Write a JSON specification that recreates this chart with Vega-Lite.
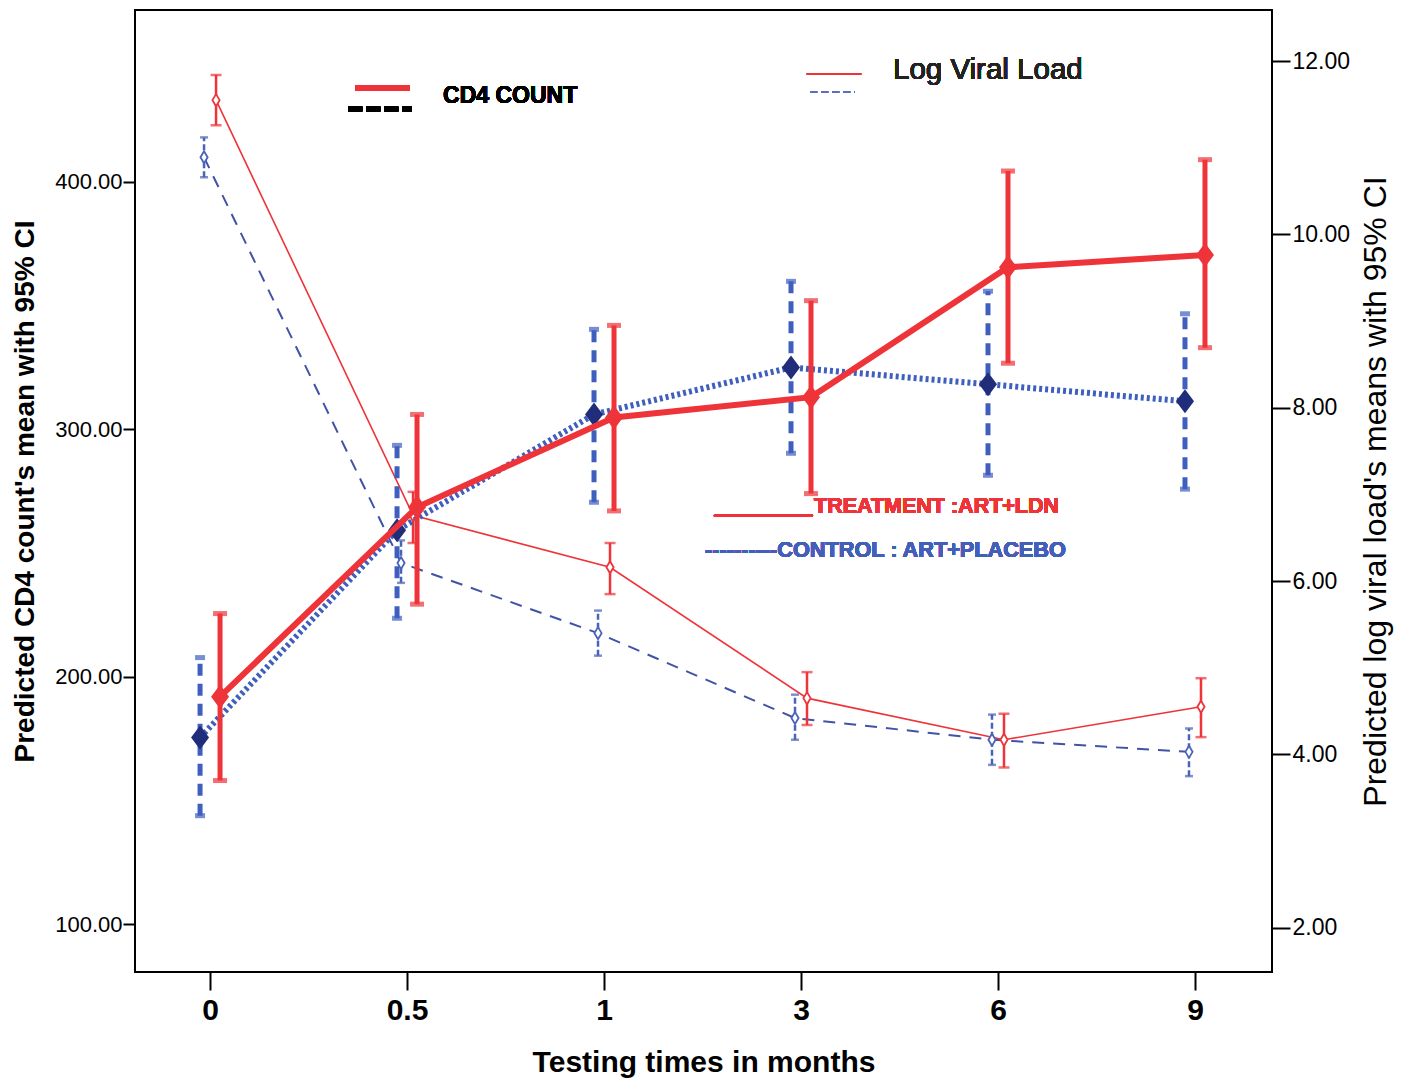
{
  "$schema": "https://vega.github.io/schema/vega-lite/v6.json",
  "width": 1137,
  "height": 962,
  "autosize": {"type": "none"},
  "padding": {"left": 135, "top": 10, "right": 134, "bottom": 106},
  "config": {
    "font": "Liberation Sans",
    "view": {"stroke": "#000000", "strokeWidth": 2},
    "axis": {"grid": false, "domain": false, "tickColor": "#000000", "labelColor": "#000000", "titleColor": "#000000", "labelFont": "Liberation Sans", "titleFont": "Liberation Sans"}
  },
  "data": {
    "values": [
      {"t": "0", "idx": 0, "grp": "T", "m": "CD4", "mean": 191.9, "lo": 158.0, "hi": 225.5},
      {"t": "0.5", "idx": 1, "grp": "T", "m": "CD4", "mean": 268.5, "lo": 229.3, "hi": 306.0},
      {"t": "1", "idx": 2, "grp": "T", "m": "CD4", "mean": 304.8, "lo": 267.0, "hi": 342.0},
      {"t": "3", "idx": 3, "grp": "T", "m": "CD4", "mean": 313.0, "lo": 274.0, "hi": 352.0},
      {"t": "6", "idx": 4, "grp": "T", "m": "CD4", "mean": 365.5, "lo": 326.7, "hi": 404.4},
      {"t": "9", "idx": 5, "grp": "T", "m": "CD4", "mean": 370.5, "lo": 333.0, "hi": 409.0},
      {"t": "0", "idx": 0, "grp": "C", "m": "CD4", "mean": 175.4, "lo": 143.8, "hi": 207.7},
      {"t": "0.5", "idx": 1, "grp": "C", "m": "CD4", "mean": 259.2, "lo": 223.6, "hi": 293.5},
      {"t": "1", "idx": 2, "grp": "C", "m": "CD4", "mean": 306.0, "lo": 270.5, "hi": 340.4},
      {"t": "3", "idx": 3, "grp": "C", "m": "CD4", "mean": 325.0, "lo": 290.3, "hi": 359.8},
      {"t": "6", "idx": 4, "grp": "C", "m": "CD4", "mean": 318.2, "lo": 281.4, "hi": 355.8},
      {"t": "9", "idx": 5, "grp": "C", "m": "CD4", "mean": 311.3, "lo": 275.8, "hi": 346.7},
      {"t": "0", "idx": 0, "grp": "T", "m": "VL", "mean": 11.55, "lo": 11.26, "hi": 11.84},
      {"t": "0.5", "idx": 1, "grp": "T", "m": "VL", "mean": 6.76, "lo": 6.44, "hi": 7.03},
      {"t": "1", "idx": 2, "grp": "T", "m": "VL", "mean": 6.16, "lo": 5.85, "hi": 6.44},
      {"t": "3", "idx": 3, "grp": "T", "m": "VL", "mean": 4.65, "lo": 4.34, "hi": 4.95},
      {"t": "6", "idx": 4, "grp": "T", "m": "VL", "mean": 4.17, "lo": 3.85, "hi": 4.47},
      {"t": "9", "idx": 5, "grp": "T", "m": "VL", "mean": 4.55, "lo": 4.2, "hi": 4.88},
      {"t": "0", "idx": 0, "grp": "C", "m": "VL", "mean": 10.89, "lo": 10.66, "hi": 11.12},
      {"t": "0.5", "idx": 1, "grp": "C", "m": "VL", "mean": 6.21, "lo": 5.98, "hi": 6.47},
      {"t": "1", "idx": 2, "grp": "C", "m": "VL", "mean": 5.4, "lo": 5.14, "hi": 5.66},
      {"t": "3", "idx": 3, "grp": "C", "m": "VL", "mean": 4.42, "lo": 4.17, "hi": 4.69},
      {"t": "6", "idx": 4, "grp": "C", "m": "VL", "mean": 4.17, "lo": 3.88, "hi": 4.46},
      {"t": "9", "idx": 5, "grp": "C", "m": "VL", "mean": 4.03, "lo": 3.75, "hi": 4.3}
    ]
  },
  "encoding": {
    "x": {
      "field": "idx", "type": "quantitative",
      "scale": {"domain": [-0.381, 5.391], "nice": false, "zero": false},
      "axis": {
        "orient": "bottom", "values": [0, 1, 2, 3, 4, 5],
        "labelExpr": "['0','0.5','1','3','6','9'][datum.value]",
        "labelFontSize": 30, "labelFontWeight": "bold", "labelPadding": 5,
        "tickSize": 18, "tickWidth": 2,
        "title": "Testing times in months", "titleFontSize": 30, "titleFontWeight": "bold", "titlePadding": 22
      }
    }
  },
  "layer": [
    {
      "encoding": {
        "y": {
          "field": "mean", "type": "quantitative",
          "scale": {"domain": [1.49, 12.59], "nice": false, "zero": false},
          "axis": {
            "orient": "right", "values": [2, 4, 6, 8, 10, 12], "format": ".2f",
            "labelFontSize": 23, "tickSize": 18, "tickWidth": 2, "labelPadding": 2,
            "title": "Predicted log viral load's means with 95% CI", "titleFontSize": 32, "titleFontWeight": "normal",
            "titleAngle": 270, "titleX": 103, "titleBaseline": "middle"
          }
        }
      },
      "layer": [
        {
          "transform": [{"filter": "datum.m == 'VL' && datum.grp == 'C'"}],
          "mark": {"type": "line", "color": "#4252A6", "strokeWidth": 2, "strokeDash": [12, 9], "xOffset": -6}
        },
        {
          "transform": [{"filter": "datum.m == 'VL' && datum.grp == 'T'"}],
          "mark": {"type": "line", "color": "#EE3339", "strokeWidth": 1.6, "xOffset": 6}
        },
        {
          "transform": [{"filter": "datum.m == 'VL' && datum.grp == 'C'"}],
          "mark": {"type": "rule", "color": "#4A63B8", "strokeWidth": 2.5, "strokeDash": [6, 3], "xOffset": -6},
          "encoding": {"y": {"field": "lo", "type": "quantitative"}, "y2": {"field": "hi"}}
        },
        {
          "transform": [{"filter": "datum.m == 'VL' && datum.grp == 'T'"}],
          "mark": {"type": "rule", "color": "#EE3339", "strokeWidth": 2.5, "xOffset": 6},
          "encoding": {"y": {"field": "lo", "type": "quantitative"}, "y2": {"field": "hi"}}
        },
        {
          "transform": [{"filter": "datum.m == 'VL' && datum.grp == 'C'"}],
          "mark": {"type": "point", "shape": "stroke", "filled": false, "size": 64, "color": "#4A63B8", "strokeWidth": 2.5, "xOffset": -6},
          "encoding": {"y": {"field": "lo", "type": "quantitative"}}
        },
        {
          "transform": [{"filter": "datum.m == 'VL' && datum.grp == 'C'"}],
          "mark": {"type": "point", "shape": "stroke", "filled": false, "size": 64, "color": "#4A63B8", "strokeWidth": 2.5, "xOffset": -6},
          "encoding": {"y": {"field": "hi", "type": "quantitative"}}
        },
        {
          "transform": [{"filter": "datum.m == 'VL' && datum.grp == 'T'"}],
          "mark": {"type": "point", "shape": "stroke", "filled": false, "size": 121, "color": "#EE3339", "strokeWidth": 2.5, "xOffset": 6},
          "encoding": {"y": {"field": "lo", "type": "quantitative"}}
        },
        {
          "transform": [{"filter": "datum.m == 'VL' && datum.grp == 'T'"}],
          "mark": {"type": "point", "shape": "stroke", "filled": false, "size": 121, "color": "#EE3339", "strokeWidth": 2.5, "xOffset": 6},
          "encoding": {"y": {"field": "hi", "type": "quantitative"}}
        },
        {
          "transform": [{"filter": "datum.m == 'VL' && datum.grp == 'C'"}],
          "mark": {"type": "point", "shape": "M-0.6,0L0,-1L0.6,0L0,1Z", "size": 144, "filled": true, "fill": "#ffffff", "stroke": "#4A63B8", "strokeWidth": 1.8, "opacity": 1, "xOffset": -6}
        },
        {
          "transform": [{"filter": "datum.m == 'VL' && datum.grp == 'T'"}],
          "mark": {"type": "point", "shape": "M-0.6,0L0,-1L0.6,0L0,1Z", "size": 144, "filled": true, "fill": "#ffffff", "stroke": "#EE3339", "strokeWidth": 1.8, "opacity": 1, "xOffset": 6}
        }
      ]
    },
    {
      "encoding": {
        "y": {
          "field": "mean", "type": "quantitative",
          "scale": {"domain": [80.6, 469.5], "nice": false, "zero": false},
          "axis": {
            "orient": "left", "values": [100, 200, 300, 400], "format": ".2f",
            "labelFontSize": 22, "tickSize": 12, "tickWidth": 2, "labelPadding": 1,
            "title": "Predicted CD4 count's mean with 95% CI", "titleFontSize": 28, "titleFontWeight": "bold",
            "titleX": -110, "titleBaseline": "middle"
          }
        }
      },
      "layer": [
        {
          "transform": [{"filter": "datum.m == 'CD4' && datum.grp == 'C'"}],
          "mark": {"type": "line", "color": "#3F5FBF", "strokeWidth": 6, "strokeDash": [3, 3], "xOffset": -10}
        },
        {
          "transform": [{"filter": "datum.m == 'CD4' && datum.grp == 'C'"}],
          "mark": {"type": "rule", "color": "#3F5FBF", "strokeWidth": 5, "strokeDash": [12, 8], "xOffset": -10},
          "encoding": {"y": {"field": "lo", "type": "quantitative"}, "y2": {"field": "hi"}}
        },
        {
          "transform": [{"filter": "datum.m == 'CD4' && datum.grp == 'C'"}],
          "mark": {"type": "point", "shape": "stroke", "filled": false, "size": 100, "color": "#3F5FBF", "strokeWidth": 5, "xOffset": -10},
          "encoding": {"y": {"field": "lo", "type": "quantitative"}}
        },
        {
          "transform": [{"filter": "datum.m == 'CD4' && datum.grp == 'C'"}],
          "mark": {"type": "point", "shape": "stroke", "filled": false, "size": 100, "color": "#3F5FBF", "strokeWidth": 5, "xOffset": -10},
          "encoding": {"y": {"field": "hi", "type": "quantitative"}}
        },
        {
          "transform": [{"filter": "datum.m == 'CD4' && datum.grp == 'C'"}],
          "mark": {"type": "point", "shape": "M-0.75,0L0,-1L0.75,0L0,1Z", "size": 576, "filled": true, "color": "#1F2D7B", "opacity": 1, "xOffset": -10}
        },
        {
          "transform": [{"filter": "datum.m == 'CD4' && datum.grp == 'T'"}],
          "mark": {"type": "line", "color": "#EE3339", "strokeWidth": 6, "xOffset": 10}
        },
        {
          "transform": [{"filter": "datum.m == 'CD4' && datum.grp == 'T'"}],
          "mark": {"type": "rule", "color": "#EE3339", "strokeWidth": 5, "xOffset": 10},
          "encoding": {"y": {"field": "lo", "type": "quantitative"}, "y2": {"field": "hi"}}
        },
        {
          "transform": [{"filter": "datum.m == 'CD4' && datum.grp == 'T'"}],
          "mark": {"type": "point", "shape": "stroke", "filled": false, "size": 196, "color": "#EE3339", "strokeWidth": 5, "xOffset": 10},
          "encoding": {"y": {"field": "lo", "type": "quantitative"}}
        },
        {
          "transform": [{"filter": "datum.m == 'CD4' && datum.grp == 'T'"}],
          "mark": {"type": "point", "shape": "stroke", "filled": false, "size": 196, "color": "#EE3339", "strokeWidth": 5, "xOffset": 10},
          "encoding": {"y": {"field": "hi", "type": "quantitative"}}
        },
        {
          "transform": [{"filter": "datum.m == 'CD4' && datum.grp == 'T'"}],
          "mark": {"type": "point", "shape": "M-0.75,0L0,-1L0.75,0L0,1Z", "size": 576, "filled": true, "color": "#EE3339", "opacity": 1, "xOffset": 10}
        },
        {
          "mark": {"type": "rule", "color": "#EE3339", "strokeWidth": 5},
          "encoding": {"x": {"datum": 0.736}, "x2": {"datum": 1.015}, "y": {"datum": 438.0}}
        },
        {
          "mark": {"type": "rule", "color": "#000000", "strokeWidth": 5, "strokeDash": [14, 4]},
          "encoding": {"x": {"datum": 0.701}, "x2": {"datum": 1.025}, "y": {"datum": 429.5}}
        },
        {
          "mark": {"type": "text", "text": "CD4 COUNT", "align": "left", "baseline": "middle", "fontSize": 23, "fontWeight": "bold", "fill": "#000000"},
          "encoding": {"x": {"datum": 1.183}, "y": {"datum": 434.7}}
        },
        {
          "mark": {"type": "rule", "color": "#EE3339", "strokeWidth": 1.6},
          "encoding": {"x": {"datum": 3.03}, "x2": {"datum": 3.305}, "y": {"datum": 443.6}}
        },
        {
          "mark": {"type": "rule", "color": "#5B6FC0", "strokeWidth": 2, "strokeDash": [7, 4]},
          "encoding": {"x": {"datum": 3.046}, "x2": {"datum": 3.274}, "y": {"datum": 436.4}}
        },
        {
          "mark": {"type": "text", "text": "Log Viral Load", "align": "left", "baseline": "middle", "fontSize": 29.5, "fontWeight": "normal", "fill": "#222222"},
          "encoding": {"x": {"datum": 3.467}, "y": {"datum": 445.3}}
        },
        {
          "mark": {"type": "rule", "color": "#EE3339", "strokeWidth": 1.6},
          "encoding": {"x": {"datum": 2.558}, "x2": {"datum": 3.061}, "y": {"datum": 265.1}}
        },
        {
          "mark": {"type": "text", "text": "TREATMENT :ART+LDN", "align": "left", "baseline": "middle", "fontSize": 21.5, "fontWeight": "bold", "fill": "#EE3339"},
          "encoding": {"x": {"datum": 3.066}, "y": {"datum": 268.7}}
        },
        {
          "mark": {"type": "text", "text": "----------CONTROL : ART+PLACEBO", "align": "left", "baseline": "middle", "fontSize": 21.7, "fontWeight": "bold", "fill": "#4360B8"},
          "encoding": {"x": {"datum": 2.513}, "y": {"datum": 251.3}}
        }
      ]
    }
  ],
  "resolve": {"scale": {"y": "independent"}}
}
